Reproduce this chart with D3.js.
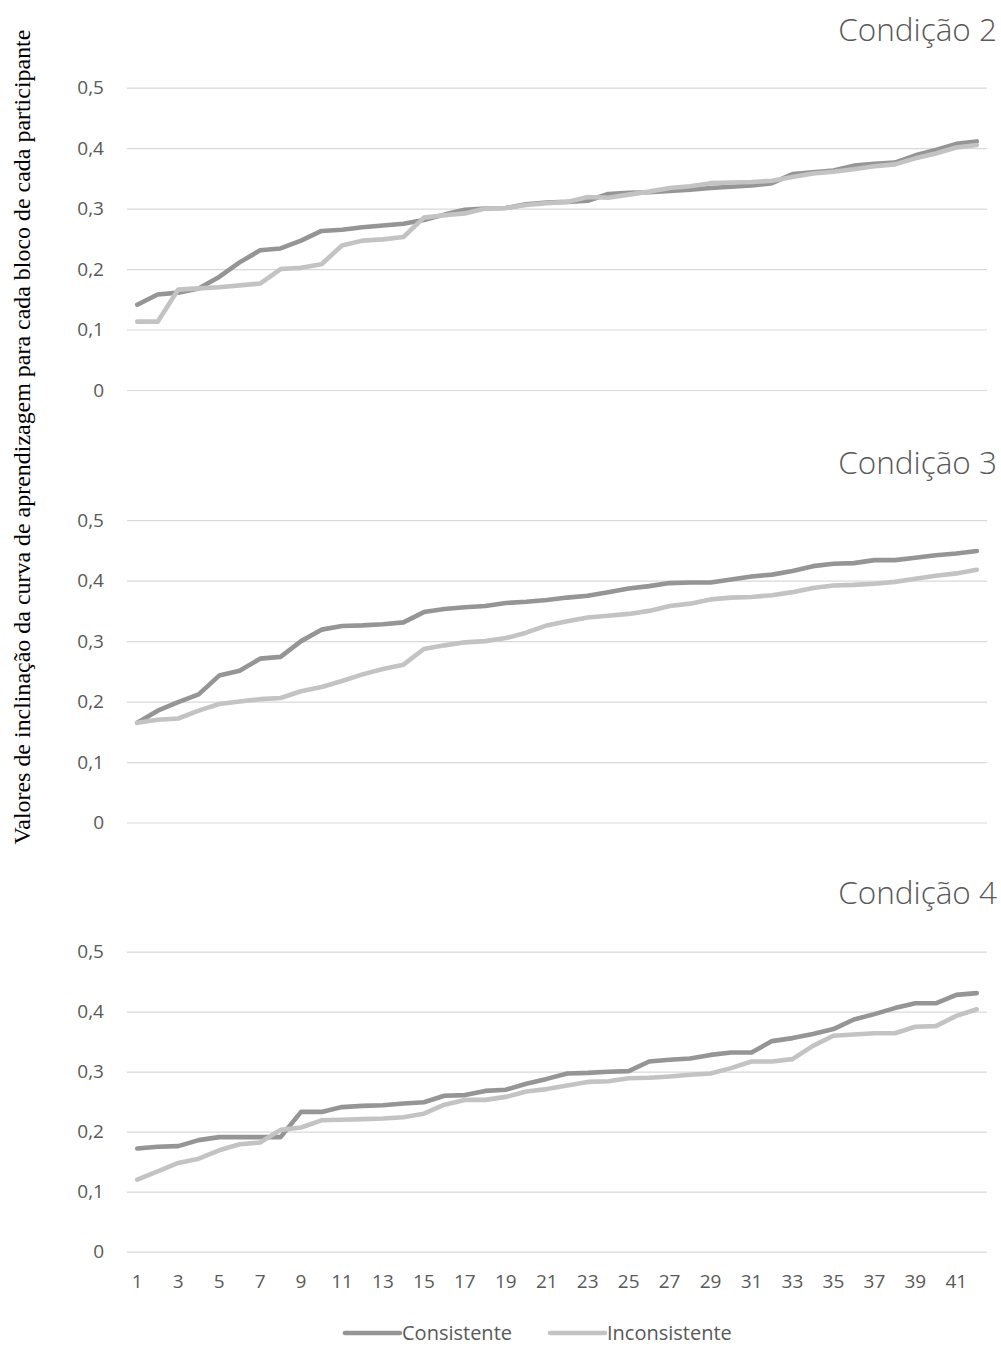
<!DOCTYPE html>
<html>
<head>
<meta charset="utf-8">
<script src="https://cdn.jsdelivr.net/npm/d3@7"></script>
<style>
  html, body { margin: 0; padding: 0; background: #ffffff; }
  svg { display: block; }
</style>
</head>
<body>
<svg id="chart" width="1001" height="1347"></svg>
<script>
// ---------------- DATA ----------------
const categories = [1,2,3,4,5,6,7,8,9,10,11,12,13,14,15,16,17,18,19,20,21,22,23,24,25,26,27,28,29,30,31,32,33,34,35,36,37,38,39,40,41,42];
const xTickLabels = [1,3,5,7,9,11,13,15,17,19,21,23,25,27,29,31,33,35,37,39,41];
const yTickValues = [0, 0.1, 0.2, 0.3, 0.4, 0.5];
const seriesNames = ["Consistente", "Inconsistente"];
const panelTitles = ["Condição 2", "Condição 3", "Condição 4"];
const yAxisTitle = "Valores de inclinação da curva de aprendizagem para cada bloco de cada participante";

const c2Consistente = [0.141,0.158,0.161,0.168,0.187,0.211,0.231,0.234,0.247,0.263,0.265,0.269,0.272,0.275,0.281,0.290,0.298,0.300,0.301,0.307,0.310,0.311,0.313,0.324,0.326,0.327,0.329,0.331,0.334,0.336,0.338,0.342,0.357,0.360,0.363,0.371,0.374,0.376,0.388,0.397,0.407,0.411];
const c2Inconsistente = [0.113,0.113,0.166,0.168,0.170,0.173,0.176,0.200,0.202,0.208,0.239,0.247,0.249,0.253,0.285,0.289,0.292,0.300,0.301,0.306,0.309,0.311,0.319,0.318,0.323,0.328,0.334,0.337,0.342,0.343,0.344,0.346,0.352,0.358,0.361,0.365,0.370,0.373,0.383,0.391,0.401,0.405];

const c3Consistente = [0.165,0.185,0.199,0.212,0.243,0.251,0.271,0.274,0.300,0.319,0.325,0.326,0.328,0.331,0.348,0.353,0.356,0.358,0.363,0.365,0.368,0.372,0.375,0.381,0.387,0.391,0.396,0.397,0.397,0.402,0.407,0.410,0.416,0.424,0.428,0.429,0.434,0.434,0.438,0.442,0.445,0.449];
const c3Inconsistente = [0.165,0.170,0.172,0.185,0.196,0.200,0.204,0.206,0.217,0.224,0.234,0.245,0.254,0.261,0.287,0.293,0.298,0.300,0.305,0.314,0.326,0.333,0.339,0.342,0.345,0.350,0.358,0.362,0.369,0.372,0.373,0.376,0.381,0.388,0.392,0.393,0.395,0.398,0.403,0.408,0.412,0.418];

const c4Consistente = [0.172,0.175,0.176,0.186,0.191,0.191,0.191,0.191,0.233,0.233,0.241,0.243,0.244,0.247,0.249,0.260,0.261,0.268,0.270,0.280,0.288,0.297,0.298,0.300,0.301,0.317,0.320,0.322,0.328,0.332,0.332,0.351,0.356,0.363,0.371,0.387,0.396,0.406,0.414,0.414,0.428,0.431];
const c4Inconsistente = [0.120,0.134,0.148,0.155,0.169,0.179,0.182,0.203,0.207,0.219,0.220,0.221,0.222,0.224,0.230,0.245,0.253,0.253,0.258,0.267,0.271,0.277,0.283,0.284,0.289,0.290,0.292,0.295,0.297,0.306,0.317,0.317,0.321,0.343,0.360,0.362,0.364,0.364,0.375,0.376,0.393,0.404];

// ---------------- LAYOUT / STYLE ----------------
const colors = ["#959595", "#c3c3c3"];
const textColor = "#595959";
const gridColor = "#d9d9d9";
const uiFont = "'Open Sans', Lato, 'Liberation Sans', sans-serif";

const panels = [
  { title: panelTitles[0], data: [c2Consistente, c2Inconsistente], y0: 390.0, y5: 87.6, titleY: 41 },
  { title: panelTitles[1], data: [c3Consistente, c3Inconsistente], y0: 822.5, y5: 520.2, titleY: 474 },
  { title: panelTitles[2], data: [c4Consistente, c4Inconsistente], y0: 1251.7, y5: 951.7, titleY: 904 }
];

const svg = d3.select("#chart");
const plotLeft = 127, plotRight = 987;

const x = d3.scaleBand().domain(categories).range([plotLeft, plotRight]).padding(0);
const xc = d => x(d) + x.bandwidth() / 2;
const fmt = v => d3.format(".1f")(v).replace(".", ",");

panels.forEach((p, pi) => {
  const y = d3.scaleLinear().domain([0, 0.5]).range([p.y0, p.y5]);
  const g = svg.append("g");

  // gridlines + y tick labels
  const yAxis = d3.axisLeft(y).tickValues(yTickValues)
    .tickSize(-(plotRight - plotLeft))
    .tickFormat(v => v === 0 ? "0" : fmt(v))
    .tickPadding(23);
  const ag = g.append("g").attr("transform", `translate(${plotLeft},0)`).call(yAxis);
  ag.select(".domain").remove();
  ag.selectAll(".tick line").attr("stroke", gridColor).attr("stroke-width", 1.2);
  ag.selectAll(".tick text")
    .attr("fill", textColor)
    .style("font-family", uiFont)
    .style("font-size", "19px");

  // lines
  const line = d3.line().x((d, i) => xc(categories[i])).y(d => y(d));
  p.data.forEach((series, si) => {
    g.append("path")
      .datum(series)
      .attr("d", line)
      .attr("fill", "none")
      .attr("stroke", colors[si])
      .attr("stroke-width", 4.6)
      .attr("stroke-linejoin", "round")
      .attr("stroke-linecap", "round");
  });

  // title
  g.append("text")
    .attr("x", 997).attr("y", p.titleY)
    .attr("text-anchor", "end")
    .attr("fill", textColor)
    .style("font-family", uiFont)
    .style("font-weight", 300)
    .style("font-size", "31.5px")
    .text(p.title);

  // x axis labels on last panel
  if (pi === panels.length - 1) {
    const xAxis = d3.axisBottom(x).tickValues(xTickLabels).tickSize(0).tickPadding(23);
    const xg = g.append("g").attr("transform", `translate(0,${p.y0})`).call(xAxis);
    xg.select(".domain").remove();
    xg.selectAll(".tick text")
      .attr("fill", textColor)
      .style("font-family", uiFont)
      .style("font-size", "19px");
  }
});

// Y axis title (rotated)
const yt = svg.append("text")
  .attr("transform", "translate(22,437) rotate(-90)")
  .attr("text-anchor", "middle")
  .attr("dominant-baseline", "central")
  .attr("fill", "#000")
  .style("font-family", "'Liberation Serif', 'Times New Roman', serif")
  .style("font-size", "18px")
  .text(yAxisTitle);
const targetLen = 815;
const len = yt.node().getComputedTextLength();
yt.style("font-size", (18 * targetLen / len).toFixed(2) + "px");

// Legend
const legendY = 1333;
const legendX = [345, 550];
seriesNames.forEach((name, i) => {
  const lx = legendX[i];
  svg.append("line")
    .attr("x1", lx).attr("x2", lx + 55)
    .attr("y1", legendY).attr("y2", legendY)
    .attr("stroke", colors[i]).attr("stroke-width", 4.6)
    .attr("stroke-linecap", "round");
  svg.append("text")
    .attr("x", lx + 57).attr("y", legendY + 7)
    .attr("fill", textColor)
    .style("font-family", uiFont)
    .style("font-size", "20px")
    .text(name);
});
</script>
</body>
</html>
